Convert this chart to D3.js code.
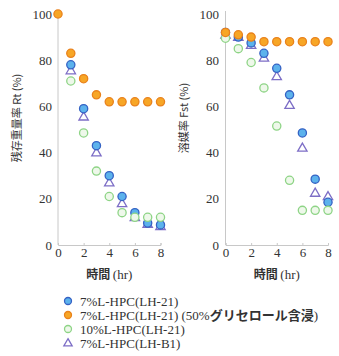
<!DOCTYPE html>
<html>
<head>
<meta charset="utf-8">
<script src="https://cdn.jsdelivr.net/npm/d3@7"></script>
<style>
body { margin: 0; background: #fff; }
svg { display: block; }
</style>
</head>
<body>
<svg id="chart" width="339" height="356"></svg>
<script>
// hours, shared by both panels
var hours = [0, 1, 2, 3, 4, 5, 6, 7, 8];
var yTicks = [0, 20, 40, 60, 80, 100];
var xTicks = [0, 2, 4, 6, 8];

// left panel: residual weight Rt (%)
var rtBlue = [null, 78, 59, 43, 30, 21, 14, 9.5, 8.7];
var rtOrange = [100, 83, 72, 65, 62, 62, 62, 62, 62];
var rtGreen = [null, 71, 48.5, 32, 21, 14, 12, 12, 12];
var rtTri = [null, 75.5, 55.5, 40, 27, 18, 12, 9, 8];

// right panel: solvent ratio Fst (%)
var fsBlue = [92, 90, 87.5, 83, 76.5, 65, 48.5, 28.5, 18.5];
var fsOrange = [92, 91, 90, 88, 88, 88, 88, 88, 88];
var fsGreen = [89.5, 85, 79, 68, 51.5, 28, 15, 15, 15];
var fsTri = [91, 90, 86.5, 81, 73, 60.5, 42, 22.5, 21];

var legendLabels = ["7%L-HPC(LH-21)", "7%L-HPC(LH-21)", "10%L-HPC(LH-21)", "7%L-HPC(LH-B1)"];

var styles = {
    blue: {fill: "#5cb2ec", stroke: "#3562c4"},
    orange: {fill: "#f7a626", stroke: "#e9821c"},
    green: {fill: "#eef8ea", stroke: "#8ed486"},
    tri: {fill: "#ffffff", stroke: "#7d6ec6"}
};

var svg = d3.select("#chart");
var serif = "'Liberation Serif', 'DejaVu Serif', serif";
var cjk = "'Noto Sans CJK JP', sans-serif";

var y = d3.scaleLinear().domain([0, 100]).range([245, 14]);

function drawPanel(x0, labelEnd, series, title, titleX) {
    var x = d3.scaleLinear().domain([0, 8]).range([x0, x0 + 102.5]);
    var g = svg.append("g");

    // y axis line
    g.append("line")
        .attr("x1", x0).attr("x2", x0)
        .attr("y1", y(100) - 3).attr("y2", y(0))
        .attr("stroke", "#c8c8c8").attr("stroke-width", 1);

    g.selectAll(".ytick").data(yTicks).enter().append("text")
        .attr("x", labelEnd)
        .attr("y", function (d) { return y(d); })
        .attr("dy", "0.35em")
        .attr("text-anchor", "end")
        .attr("font-family", serif)
        .attr("font-size", 13)
        .attr("fill", "#333")
        .text(function (d) { return d; });

    // x axis
    var xAxis = g.append("g")
        .attr("transform", "translate(0," + y(0) + ")")
        .call(d3.axisBottom(x).tickValues(xTicks).tickSize(-2).tickPadding(3));
    xAxis.select(".domain").attr("stroke", "#c8c8c8");
    xAxis.selectAll(".tick line").attr("stroke", "#c8c8c8");
    xAxis.selectAll("text")
        .attr("font-family", serif)
        .attr("font-size", 13)
        .attr("fill", "#333");

    // axis title
    g.append("text")
        .attr("transform", "translate(" + titleX + ",118) rotate(-90)")
        .attr("text-anchor", "middle")
        .attr("font-family", cjk)
        .attr("font-size", 11)
        .attr("fill", "#333")
        .text(title);

    var xt = g.append("text")
        .attr("x", x(4))
        .attr("y", 279)
        .attr("text-anchor", "middle")
        .attr("font-size", 12)
        .attr("fill", "#333");
    xt.append("tspan").attr("font-family", cjk).attr("font-weight", "bold").text("時間 ");
    xt.append("tspan").attr("font-family", serif).attr("font-size", 13).text("(hr)");

    // marks: draw order triangle, blue, green, orange
    series.forEach(function (s) {
        var pts = hours.map(function (h, i) { return {h: h, v: s.values[i]}; })
            .filter(function (d) { return d.v != null; });
        var st = styles[s.key];
        if (s.key === "tri") {
            g.selectAll(".m-" + s.key).data(pts).enter().append("path")
                .attr("d", d3.symbol().type(d3.symbolTriangle).size(38))
                .attr("transform", function (d) { return "translate(" + x(d.h) + "," + (y(d.v) + 0.5) + ")"; })
                .attr("fill", st.fill).attr("stroke", st.stroke).attr("stroke-width", 1.3);
        } else {
            g.selectAll(".m-" + s.key).data(pts).enter().append("circle")
                .attr("cx", function (d) { return x(d.h); })
                .attr("cy", function (d) { return y(d.v); })
                .attr("r", 4.1)
                .attr("fill", st.fill).attr("stroke", st.stroke).attr("stroke-width", 1.3);
        }
    });
}

drawPanel(58, 52, [
    {key: "tri", values: rtTri},
    {key: "blue", values: rtBlue},
    {key: "green", values: rtGreen},
    {key: "orange", values: rtOrange}
], "残存重量率 Rt (%)", 21);

drawPanel(225.5, 219, [
    {key: "tri", values: fsTri},
    {key: "blue", values: fsBlue},
    {key: "green", values: fsGreen},
    {key: "orange", values: fsOrange}
], "溶媒率 Fst (%)", 188);

// legend
var legendKeys = ["blue", "orange", "green", "tri"];
var legend = svg.append("g");
legendKeys.forEach(function (k, i) {
    var ly = 301 + i * 14;
    var st = styles[k];
    if (k === "tri") {
        legend.append("path")
            .attr("d", d3.symbol().type(d3.symbolTriangle).size(30))
            .attr("transform", "translate(68," + (ly + 0.5) + ")")
            .attr("fill", st.fill).attr("stroke", st.stroke).attr("stroke-width", 1.3);
    } else {
        legend.append("circle")
            .attr("cx", 68).attr("cy", ly).attr("r", 3.5)
            .attr("fill", st.fill).attr("stroke", st.stroke).attr("stroke-width", 1.3);
    }
    var t = legend.append("text")
        .attr("x", 80).attr("y", ly).attr("dy", "0.35em")
        .attr("font-family", serif).attr("font-size", 13)
        .attr("fill", "#333")
        .text(legendLabels[i]);
    if (k === "orange") {
        t.append("tspan").text(" (50%");
        t.append("tspan").attr("font-family", cjk).attr("font-size", 13).attr("font-weight", "bold").text("グリセロール含浸");
        t.append("tspan").text(")");
    }
});
</script>
</body>
</html>
